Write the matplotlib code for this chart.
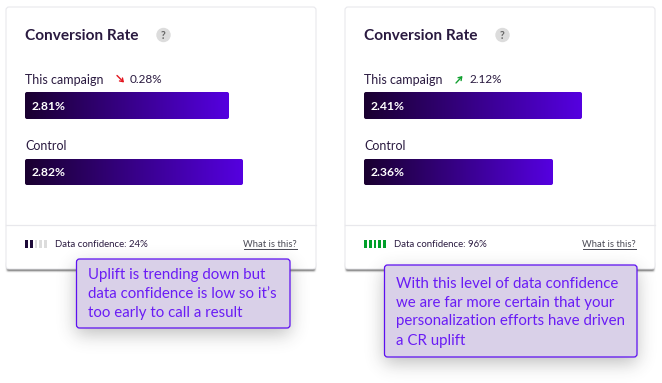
import numpy as np
import matplotlib
matplotlib.use('Agg')
import matplotlib.pyplot as plt
from matplotlib.colors import LinearSegmentedColormap
from matplotlib.patches import FancyBboxPatch, Rectangle, Circle

plt.rcParams['font.family'] = ['Lato', 'DejaVu Sans']

title = 'Conversion Rate'
row_labels = ['This campaign', 'Control']
uplifts = ['0.28%', '2.12%']
uplift_dirs = ['down', 'up']
campaign_values = ['2.81%', '2.41%']
control_values = ['2.82%', '2.36%']
# bar lengths are not proportional to the labels in the original
campaign_lengths = [204, 218]
control_lengths = [218, 189]
confidence = [24, 96]
confidence_filled = [2, 5]
confidence_colors = ['#1d0a38', '#00a02a']
notes = [
    ['Uplift is trending down but', 'data confidence is low so it\u2019s', 'too early to call a result'],
    ['With this level of data confidence', 'we are far more certain that your',
     'personalization efforts have driven', 'a CR uplift'],
]

W, H = 662, 383
DARK = '#2a1a40'
gradient = LinearSegmentedColormap.from_list('bar', ['#1a0030', '#5500e0'])

fig = plt.figure(figsize=(W / 100, H / 100), dpi=100)
ax = fig.add_axes([0, 0, 1, 1])
ax.set_xlim(0, W)
ax.set_ylim(H, 0)
ax.axis('off')


def blur(mask, sigma):
    r = int(sigma * 3)
    k = np.exp(-0.5 * (np.arange(-r, r + 1) / sigma) ** 2)
    k /= k.sum()
    mask = np.apply_along_axis(lambda m: np.convolve(m, k, mode='same'), 0, mask)
    return np.apply_along_axis(lambda m: np.convolve(m, k, mode='same'), 1, mask)


def shadow(x0, y0, x1, y1, sigma, alpha, z):
    mask = np.zeros((H, W))
    mask[y0:y1, x0:x1] = 1
    rgba = np.zeros((H, W, 4))
    rgba[..., :3] = 0.2
    rgba[..., 3] = blur(mask, sigma) * alpha
    ax.imshow(rgba, extent=(0, W, H, 0), zorder=z, aspect='auto')


def rounded(x, y, w, h, r, **kw):
    p = FancyBboxPatch((x, y), w, h, boxstyle=f'round,pad=0,rounding_size={r}', **kw)
    ax.add_patch(p)
    return p


def bar(x, y, length, h, label, z):
    clip = rounded(x, y, length, h, 2, fc='none', ec='none', zorder=z)
    g = np.linspace(0, 1, 256).reshape(1, -1)
    im = ax.imshow(g, extent=(x, x + length, y + h, y), cmap=gradient, aspect='auto', zorder=z)
    im.set_clip_path(clip)
    ax.text(x + 7, y + h / 2 + 0.5, label, color='white', fontsize=8.7, fontweight='bold',
            va='center', ha='left', zorder=z + 1)


def card(i, x0):
    z = 2 + i * 0.01
    # only the bottom edge has a hard shadow, the sides are just a light border
    shadow(x0 + 1, 263, x0 + 309, 271, 1.0, 0.75, 1)
    rounded(x0, 7, 310, 262, 3, fc='white', ec='#e8e8ec', lw=0.8, zorder=z)
    x = x0 + 19
    ax.text(x, 36, title, color=DARK, fontsize=11.1, fontweight='bold', va='center', zorder=3)
    ax.add_patch(Circle((x + 138.5, 35), 7.2, fc='#dcdcdc', ec='none', zorder=3))
    ax.text(x + 138.5, 35.5, '?', color='#666666', fontsize=7.6, fontweight='bold',
            ha='center', va='center', zorder=4)

    ax.text(x, 79.5, row_labels[0], color=DARK, fontsize=9, va='center', zorder=3)
    if uplift_dirs[i] == 'down':
        a, b, col = (x + 92, 75.5), (x + 99, 82.5), '#e3141e'
    else:
        a, b, col = (x + 92, 83), (x + 98.5, 76), '#12a030'
    ax.annotate('', xy=b, xytext=a, zorder=3,
                arrowprops=dict(arrowstyle='->,head_length=0.22,head_width=0.15', color=col,
                                lw=1.0, shrinkA=0, shrinkB=0))
    ax.text(x + 105, 79.5, uplifts[i], color=DARK, fontsize=8.5, va='center', zorder=3)
    bar(x, 92, campaign_lengths[i], 27, campaign_values[i], 3)

    ax.text(x, 145.5, row_labels[1], color=DARK, fontsize=9, va='center', zorder=3)
    bar(x, 159, control_lengths[i], 26, control_values[i], 3)

    ax.plot([x0, x0 + 310], [224.5, 224.5], color='#e8e8ec', lw=0.9, zorder=3)
    for k in range(5):
        col = confidence_colors[i] if k < confidence_filled[i] else '#dcdcdc'
        ax.add_patch(Rectangle((x + k * 4.75, 240), 2.9, 8, fc=col, ec='none', zorder=3))
    ax.text(x + 30, 244.5, f'Data confidence: {confidence[i]}%', color=DARK, fontsize=6.9,
            va='center', zorder=3)
    ax.text(x + 272, 244.5, 'What is this?', color='#4a4a55', fontsize=6.75, ha='right',
            va='center', zorder=3)
    ax.plot([x + 218.5, x + 272], [248.5, 248.5], color='#4a4a55', lw=0.7, zorder=3)


def note(lines, x0, y0, x1, y1, tx, ty, z):
    shadow(x0, y0 + 6, x1, y1 + 6, 9, 0.32, z)
    rounded(x0 + 0.5, y0, x1 - x0 - 0.5, y1 - y0, 3, fc='#d9d0e8', ec='#5d10f0', lw=0.9, zorder=z + 0.1)
    for n, line in enumerate(lines):
        ax.text(tx, ty + n * 19, line, color='#6a1cf5', fontsize=10.8, va='center', zorder=z + 0.2)


card(0, 6)
card(1, 345)
note(notes[0], 76, 259, 290, 328, 88, 275, 5)
note(notes[1], 384, 265, 637, 357, 396, 283.5, 5)

ax.set_xlim(0, W)
ax.set_ylim(H, 0)
fig.savefig('out.png', dpi=100, facecolor='white')
